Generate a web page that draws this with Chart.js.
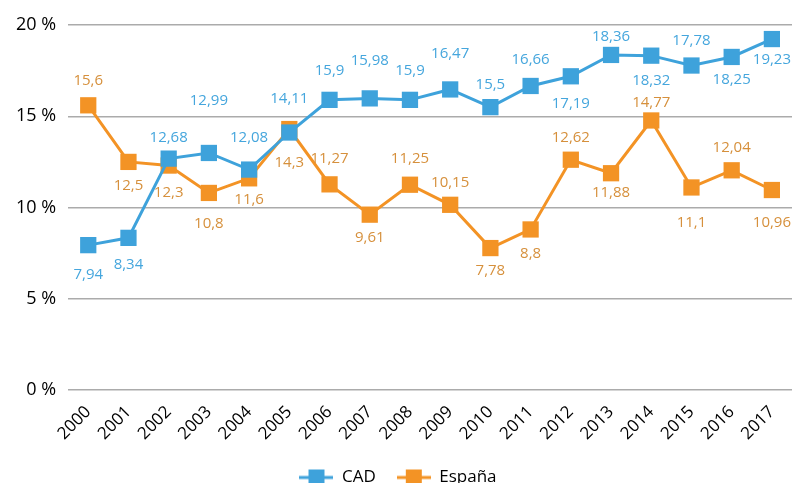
<!DOCTYPE html>
<html>
<head>
<meta charset="utf-8">
<script src="https://cdn.jsdelivr.net/npm/chart.js@4"></script>
<style>
    body { margin: 0; background: #fff; }
    #wrap { width: 794px; height: 483px; }
</style>
</head>
<body>
<div id="wrap"><canvas id="lineChart"></canvas></div>
<script>
const years = ['2000', '2001', '2002', '2003', '2004', '2005', '2006', '2007', '2008',
    '2009', '2010', '2011', '2012', '2013', '2014', '2015', '2016', '2017'];
const cadValues = [7.94, 8.34, 12.68, 12.99, 12.08, 14.11, 15.9, 15.98, 15.9,
    16.47, 15.5, 16.66, 17.19, 18.36, 18.32, 17.78, 18.25, 19.23];
const espValues = [15.6, 12.5, 12.3, 10.8, 11.6, 14.3, 11.27, 9.61, 11.25,
    10.15, 7.78, 8.8, 12.62, 11.88, 14.77, 11.1, 12.04, 10.96];
const yTicks = [0, 5, 10, 15, 20];

// where each value label sits relative to its point (px, negative = above)
const cadLabelShift = [30, 27, -21, -52, -32, -34, -29, -38, -29, -36, -22, -26, 27, -18, 25, -25, 23, 21];
const espLabelShift = [-25, 24, 27, 31, 21, 34, -26, 23, -26, -22, 23, 24, -22, 20, -18, 35, -23, 33];

const BLUE = '#3EA2DB';
const ORANGE = '#F39325';
const FONT = "'Open Sans', sans-serif";

function legendIcon(color) {
    const c = document.createElement('canvas');
    c.width = 34;
    c.height = 18;
    const g = c.getContext('2d');
    g.strokeStyle = color;
    g.lineWidth = 3;
    g.beginPath();
    g.moveTo(0, 9);
    g.lineTo(34, 9);
    g.stroke();
    g.fillStyle = color;
    g.fillRect(9, 1, 16, 16);
    return c;
}

const valueLabels = {
    id: 'valueLabels',
    afterDatasetsDraw(chart) {
        const ctx = chart.ctx;
        ctx.save();
        ctx.font = '15px ' + FONT;
        ctx.textAlign = 'center';
        ctx.textBaseline = 'middle';
        chart.data.datasets.forEach(function (ds, di) {
            const meta = chart.getDatasetMeta(di);
            meta.data.forEach(function (pt, i) {
                const txt = String(ds.data[i]).replace('.', ',');
                ctx.fillStyle = ds.labelColor;
                ctx.fillText(txt, pt.x, pt.y + ds.labelShift[i]);
            });
        });
        ctx.restore();
    }
};

const ctx = document.getElementById('lineChart').getContext('2d');

const data = {
    labels: years,
    datasets: [{
        label: 'CAD',
        data: cadValues,
        borderColor: BLUE,
        backgroundColor: BLUE,
        borderWidth: 3,
        pointStyle: 'rect',
        pointRadius: 11.5,
        pointHoverRadius: 11.5,
        pointBorderWidth: 0,
        clip: false,
        labelColor: '#45A6DD',
        labelShift: cadLabelShift,
    }, {
        label: 'España',
        data: espValues,
        borderColor: ORANGE,
        backgroundColor: ORANGE,
        borderWidth: 3,
        pointStyle: 'rect',
        pointRadius: 11.5,
        pointHoverRadius: 11.5,
        pointBorderWidth: 0,
        clip: false,
        labelColor: '#D6903C',
        labelShift: espLabelShift,
    }],
};

const config = {
    type: 'line',
    data: data,
    plugins: [valueLabels],
    options: {
        responsive: true,
        maintainAspectRatio: false,
        animation: false,
        layout: {
            autoPadding: false,
            padding: { left: 4, right: 2, top: 25, bottom: -13 },
        },
        scales: {
            x: {
                offset: true,
                grid: { display: false },
                border: { display: false },
                afterFit: function (axis) {
                    axis.paddingRight = 0;
                },
                ticks: {
                    color: '#000',
                    font: { family: FONT, size: 17 },
                    minRotation: 45,
                    maxRotation: 45,
                    padding: 4,
                },
            },
            y: {
                min: 0,
                max: 20,
                afterBuildTicks: function (axis) {
                    axis.ticks = yTicks.map(function (v) { return { value: v }; });
                },
                grid: { color: '#ABABAB', lineWidth: 1.5, drawTicks: false },
                border: { display: false },
                ticks: {
                    color: '#000',
                    padding: 12,
                    font: { family: FONT, size: 18 },
                    callback: function (v) { return v + ' %'; },
                },
            },
        },
        plugins: {
            tooltip: { enabled: false },
            legend: {
                position: 'bottom',
                labels: {
                    color: '#000',
                    font: { family: FONT, size: 17 },
                    usePointStyle: true,
                    pointStyleWidth: 34,
                    boxHeight: 18,
                    padding: 21,
                    generateLabels: function (chart) {
                        const items = Chart.defaults.plugins.legend.labels.generateLabels(chart);
                        items.forEach(function (it) {
                            it.pointStyle = legendIcon(chart.data.datasets[it.datasetIndex].borderColor);
                        });
                        return items;
                    },
                },
            },
        },
    },
};

const myChart = new Chart(ctx, config);
</script>
</body>
</html>
